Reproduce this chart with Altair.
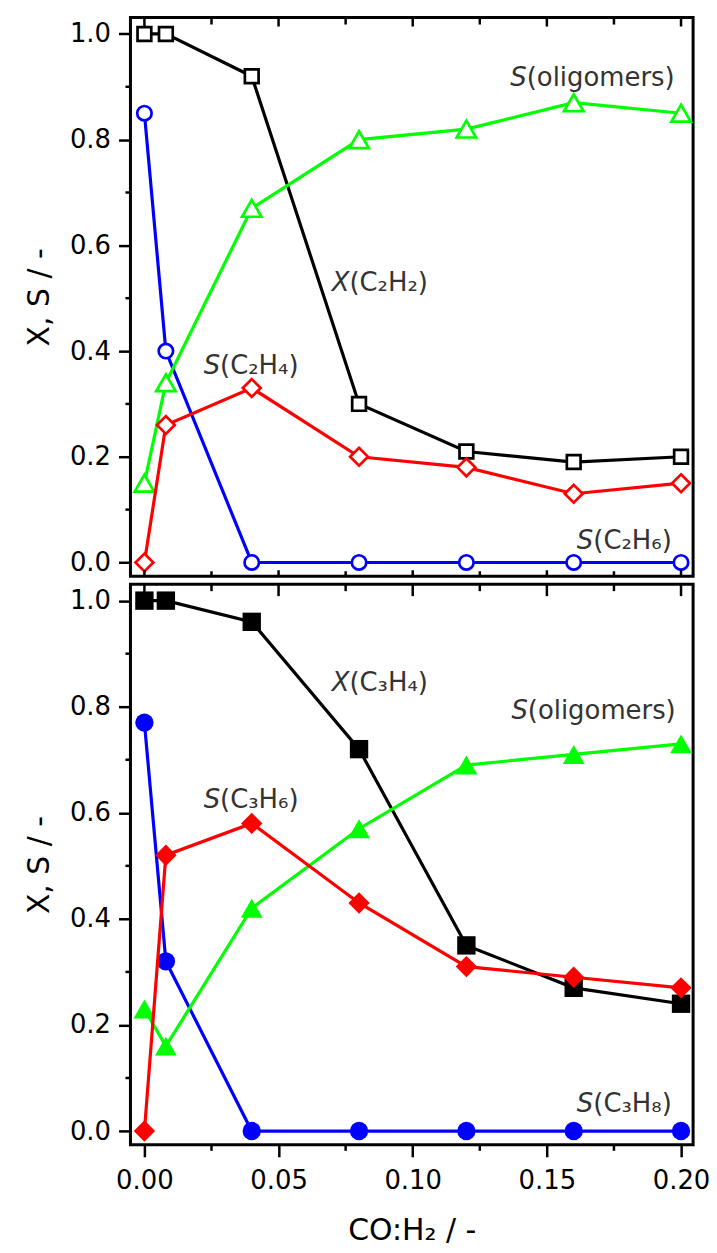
import altair as alt
import pandas as pd

# ---------------- data ----------------
co_h2 = [0.0, 0.008, 0.04, 0.08, 0.12, 0.16, 0.20]

# top panel (C2H2 feed) - open symbols
top_X = [1.00, 1.00, 0.92, 0.30, 0.21, 0.19, 0.20]
top_olig = [0.15, 0.34, 0.67, 0.80, 0.82, 0.87, 0.85]
top_alkene = [0.00, 0.26, 0.33, 0.20, 0.18, 0.13, 0.15]
top_alkane = [0.85, 0.40, 0.00, 0.00, 0.00, 0.00, 0.00]

# bottom panel (C3H4 feed) - filled symbols
bot_X = [1.00, 1.00, 0.96, 0.72, 0.35, 0.27, 0.24]
bot_olig = [0.23, 0.16, 0.42, 0.57, 0.69, 0.71, 0.73]
bot_alkene = [0.00, 0.52, 0.58, 0.43, 0.31, 0.29, 0.27]
bot_alkane = [0.77, 0.32, 0.00, 0.00, 0.00, 0.00, 0.00]

# draw order: black, blue, green, red
series_order = ["X", "alkane", "olig", "alkene"]
series_color = {"X": "#000000", "alkane": "#0000ff", "olig": "#00ff00", "alkene": "#ff0000"}
series_shape = {"X": "square", "alkane": "circle", "olig": "triangle-up", "alkene": "diamond"}
open_size = {"X": 190, "alkane": 210, "olig": 380, "alkene": 320}
filled_size = {"X": 340, "alkane": 340, "olig": 480, "alkene": 460}

# annotation labels
top_letters = ["S", "X", "S", "S"]
top_rests = ["(oligomers)", "(C₂H₂)", "(C₂H₄)", "(C₂H₆)"]
top_lab_x = [0.1425, 0.0764, 0.0282, 0.1673]
top_lab_y = [0.917, 0.529, 0.371, 0.040]

bot_letters = ["X", "S", "S", "S"]
bot_rests = ["(C₃H₄)", "(oligomers)", "(C₃H₆)", "(C₃H₈)"]
bot_lab_x = [0.0764, 0.1429, 0.0282, 0.1673]
bot_lab_y = [0.844, 0.791, 0.624, 0.051]

# tick values
x_major = [0.0, 0.05, 0.10, 0.15, 0.20]
x_minor = [0.025, 0.075, 0.125, 0.175]
y_major = [0.0, 0.2, 0.4, 0.6, 0.8, 1.0]
y_minor = [0.1, 0.3, 0.5, 0.7, 0.9]

FONT = "DejaVu Sans"
W = 565
H_TOP = 561
H_BOT = 563
LW = 3.2

xscale = alt.Scale(domain=[-0.0052, 0.2045], nice=False, zero=False)
yscale = alt.Scale(domain=[-0.026, 1.031], nice=False, zero=False)

yaxis = alt.Axis(values=y_major, format=".1f", tickSize=12, tickWidth=2.5,
                 tickColor="black", domain=False, grid=False,
                 labelFont=FONT, labelFontSize=26, labelColor="black",
                 labelPadding=8, title="X, S / -", titleFont=FONT,
                 titleFontSize=30, titleFontWeight="normal", titleColor="black",
                 titlePadding=15)
xaxis = alt.Axis(values=x_major, format=".2f", tickSize=12, tickWidth=2.5,
                 tickColor="black", domain=False, grid=False,
                 labelFont=FONT, labelFontSize=26, labelColor="black",
                 labelPadding=11, title="CO:H₂ / -", titleFont=FONT,
                 titleFontSize=30, titleFontWeight="normal", titleColor="black",
                 titlePadding=22)


def panel(values, filled, letters, rests, lab_x, lab_y, height, bottom):
    if bottom:
        xe = alt.X("x:Q", scale=xscale, axis=xaxis)
    else:
        xe = alt.X("x:Q", scale=xscale, axis=None)
    ye = alt.Y("y:Q", scale=yscale, axis=yaxis)

    layers = []
    for key in series_order:
        df = pd.DataFrame({"x": co_h2, "y": values[key]})
        color = series_color[key]
        base = alt.Chart(df)
        layers.append(base.mark_line(color=color, strokeWidth=LW).encode(x=xe, y=ye))
        if filled:
            pts = base.mark_point(shape=series_shape[key], filled=True, color=color,
                                  size=filled_size[key], opacity=1, strokeWidth=0)
        else:
            pts = base.mark_point(shape=series_shape[key], filled=True, fill="white",
                                  stroke=color, strokeWidth=2.7,
                                  size=open_size[key], opacity=1)
        layers.append(pts.encode(x=xe, y=ye))

    lab = pd.DataFrame({"x": lab_x, "y": lab_y, "letter": letters, "rest": rests})
    lbase = alt.Chart(lab)
    layers.append(lbase.mark_text(align="right", baseline="middle", font=FONT,
                                  fontSize=26, fontStyle="italic", color="#333333")
                  .encode(x=xe, y=ye, text="letter:N"))
    layers.append(lbase.mark_text(align="left", baseline="middle", font=FONT,
                                  fontSize=26, color="#333333")
                  .encode(x=xe, y=ye, text="rest:N"))

    rule = dict(color="black", strokeWidth=2.5)
    xmaj = alt.Chart(pd.DataFrame({"x": x_major}))
    xmin = alt.Chart(pd.DataFrame({"x": x_minor}))
    ymin = alt.Chart(pd.DataFrame({"y": y_minor}))
    top_len_major = 12 if bottom else 9
    top_len_minor = 7
    layers.append(xmaj.mark_rule(**rule).encode(x=xe, y=alt.value(0), y2=alt.value(top_len_major)))
    layers.append(xmin.mark_rule(**rule).encode(x=xe, y=alt.value(0), y2=alt.value(top_len_minor)))
    if bottom:
        layers.append(xmin.mark_rule(**rule).encode(x=xe, y=alt.value(height), y2=alt.value(height + 6)))
    else:
        layers.append(xmaj.mark_rule(**rule).encode(x=xe, y=alt.value(height), y2=alt.value(height - 6)))
        layers.append(xmin.mark_rule(**rule).encode(x=xe, y=alt.value(height), y2=alt.value(height - 5)))
    layers.append(ymin.mark_rule(**rule).encode(y=ye, x=alt.value(-5), x2=alt.value(0)))

    return alt.layer(*layers).properties(width=W, height=height)


top = panel({"X": top_X, "olig": top_olig, "alkene": top_alkene, "alkane": top_alkane},
            False, top_letters, top_rests, top_lab_x, top_lab_y, H_TOP, False)
bot = panel({"X": bot_X, "olig": bot_olig, "alkene": bot_alkene, "alkane": bot_alkane},
            True, bot_letters, bot_rests, bot_lab_x, bot_lab_y, H_BOT, True)

chart = alt.vconcat(top, bot, spacing=2).properties(
    padding={"left": 23, "top": 12, "right": 5, "bottom": 5},
    background="white",
).configure_view(stroke="black", strokeWidth=3)

chart.save("out.html", embed_options={"renderer": "svg", "actions": False})
